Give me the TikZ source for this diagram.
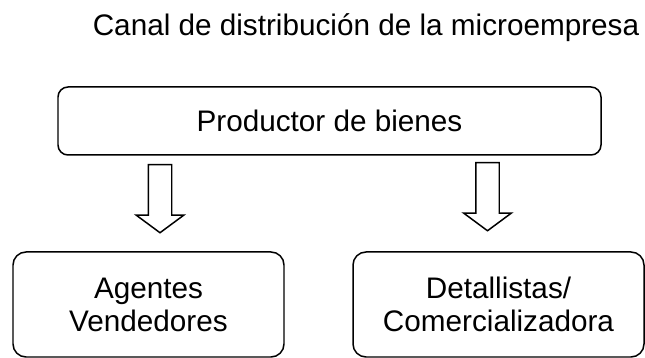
\documentclass[tikz,border=0pt]{standalone}
\usepackage{fontspec}
\setmainfont{Liberation Sans}
\usetikzlibrary{shapes.arrows}

\begin{document}
\begin{tikzpicture}[line width = 0.85pt,
                        box/.style = {draw, rounded corners = 0.2cm, align = center, font = \fontsize{16.9}{18.8}\selectfont},
                        blockarrow/.style = {single arrow, draw, shape border rotate = 270, minimum width = 0.92cm, minimum height = 1.36cm,
                                             single arrow head extend = 0.24cm, single arrow tip angle = 107, inner sep = 0.22cm}]
      \useasboundingbox (0, 0) rectangle (12.9, 7.16);

      \node [anchor = base, font = \fontsize{16.9}{18.8}\selectfont] (title) at (7.32, 6.44) {Canal de distribución de la microempresa};

      \node [box, minimum width = 10.86cm, minimum height = 1.36cm] (prod) at (6.59, 4.74) {Productor de bienes};

      \node [box, rounded corners = 0.26cm, minimum width = 5.42cm, minimum height = 2.1cm] (agen) at (2.97, 1.07) {Agentes\\Vendedores};
      \node [box, rounded corners = 0.26cm, minimum width = 5.82cm, minimum height = 2.1cm] (detal) at (9.97, 1.07) {Detallistas/\\Comercializadora};

      \node [blockarrow, anchor = tail] (arr1) at (3.2, 3.88) {};
      \node [blockarrow, anchor = tail] (arr2) at (9.75, 3.92) {};
      \end{tikzpicture}
\end{document}
